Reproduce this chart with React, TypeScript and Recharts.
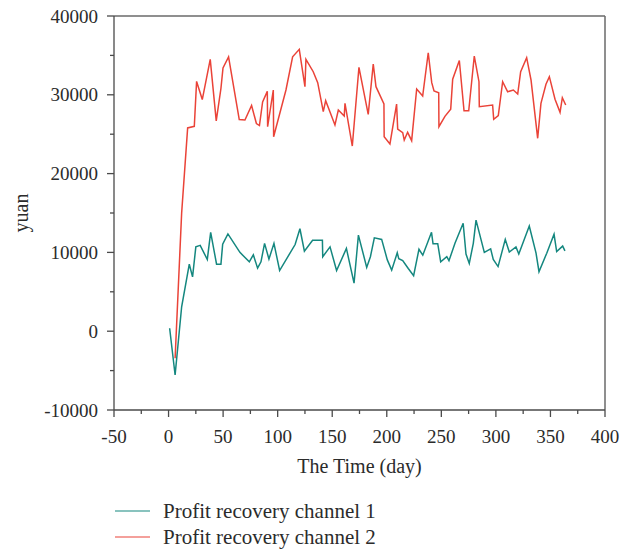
import React from 'react';
import { LineChart, Line, XAxis, YAxis, ReferenceLine, Legend } from 'recharts';

const channel1Days = [1, 6, 12, 19, 22, 25, 29, 35.5, 38.6, 44, 48, 49.6, 54.4, 65.4, 74, 77.7, 81.6, 84.7, 88, 92, 96.6, 101.8, 116, 120.4, 124.5, 132, 141, 141.3, 148, 154, 163, 170, 174, 181.6, 185, 188.6, 195.3, 200.5, 204.5, 209.6, 211, 214.6, 219.7, 224.6, 229.5, 233, 241, 242.4, 246.7, 249.4, 255, 257, 262.5, 270, 272.6, 275.6, 279.3, 281.8, 289.4, 295.2, 297.6, 302, 308.6, 312.3, 318.4, 321, 330.6, 336.8, 339.5, 346.6, 353.3, 355.7, 361.2, 363.3];
const channel1Values = [370, -5560, 3100, 8500, 6900, 10700, 10900, 9100, 12550, 8500, 8500, 11050, 12350, 10000, 8800, 9700, 8000, 8800, 11150, 9150, 11150, 7700, 11000, 13000, 10150, 11550, 11550, 9450, 10700, 7700, 10500, 6100, 12200, 8100, 9450, 11850, 11650, 9050, 7750, 9950, 9200, 8950, 7950, 7050, 10400, 9650, 12550, 11100, 11100, 8800, 9450, 8950, 11150, 13700, 9800, 8600, 11150, 14100, 10000, 10450, 9100, 8200, 11650, 10050, 10700, 9800, 13350, 9900, 7550, 9900, 12300, 10100, 10800, 10200];

const channel2Days = [6, 12, 17.5, 23.6, 25.7, 30.9, 38.2, 43.7, 48, 49.9, 55, 64.8, 70, 76.1, 80.5, 83.3, 86.2, 90.5, 90.8, 96, 96.3, 107.6, 113.7, 119.8, 125, 125.9, 132.6, 136.7, 141.8, 144, 152.5, 155.6, 161, 161.7, 168.4, 174.5, 183, 187.6, 190.1, 197.4, 197.6, 202.9, 209, 210, 214.6, 216, 219.1, 222.8, 227.4, 232.9, 238, 241.2, 243.3, 247.6, 247.8, 253.3, 258.6, 260.4, 266.5, 270.8, 275.1, 280.2, 284.5, 284.8, 297, 298, 302.2, 306.2, 310.8, 316, 320, 322.7, 328.2, 332.2, 338.3, 341.3, 345.9, 349, 354.2, 358.8, 360.9, 364];
const channel2Values = [-3440, 15000, 25800, 26000, 31700, 29400, 34500, 26700, 30800, 33400, 34800, 26850, 26800, 28650, 26350, 26100, 29100, 30440, 25950, 30610, 24680, 30610, 34830, 35770, 31030, 34500, 32930, 31540, 27860, 29250, 26170, 28070, 27310, 28920, 23500, 33490, 27520, 33910, 31030, 28830, 24680, 23760, 28830, 25660, 25190, 24260, 25240, 24180, 30740, 29850, 35340, 31540, 30480, 30270, 25950, 27260, 28180, 31970, 34350, 27980, 27980, 34920, 31660, 28490, 28700, 26890, 27350, 31660, 30390, 30610, 30100, 32930, 34710, 31880, 24480, 28920, 31330, 32300, 29430, 27780, 29630, 28700];

const xTicks = [-50, -25, 0, 25, 50, 75, 100, 125, 150, 175, 200, 225, 250, 275, 300, 325, 350, 375, 400];
const yTicks = [-10000, -5000, 0, 5000, 10000, 15000, 20000, 25000, 30000, 35000, 40000];
const seriesNames = ['Profit recovery channel 1', 'Profit recovery channel 2'];
const seriesColors = ['#14877f', '#ea4338'];

const channel1 = channel1Days.map((d, i) => ({ day: d, value: channel1Values[i] }));
const channel2 = channel2Days.map((d, i) => ({ day: d, value: channel2Values[i] }));

const FONT = '"Liberation Serif", "DejaVu Serif", serif';
const AXIS = '#4a4a4a';
const TEXT = '#2b2b2b';

const XTick = (props: any) => {
  const { x, y, payload } = props;
  const v = payload.value;
  const major = v % 50 === 0;
  return (
    <g>
      <line x1={x} y1={y} x2={x} y2={y + (major ? 7 : 4)} stroke={AXIS} strokeWidth={1.3} />
      {major && (
        <text x={x} y={y + 33} textAnchor="middle" fontFamily={FONT} fontSize={19} fill={TEXT}>
          {v}
        </text>
      )}
    </g>
  );
};

const YTick = (props: any) => {
  const { x, y, payload } = props;
  const v = payload.value;
  const major = v % 10000 === 0;
  return (
    <g>
      <line x1={x} y1={y} x2={x - (major ? 7 : 4)} y2={y} stroke={AXIS} strokeWidth={1.3} />
      {major && (
        <text x={x - 16} y={y + 6.5} textAnchor="end" fontFamily={FONT} fontSize={19} fill={TEXT}>
          {v}
        </text>
      )}
    </g>
  );
};

const LegendContent = () => (
  <div style={{ fontFamily: FONT, fontSize: 21, color: TEXT }}>
    {seriesNames.map((n, i) => (
      <div key={n} style={{ display: 'flex', alignItems: 'center', height: 26 }}>
        <svg width={35} height={4} style={{ marginRight: 13 }}>
          <line x1={0} y1={2} x2={35} y2={2} stroke={seriesColors[i]} strokeWidth={1.2} />
        </svg>
        <span style={{ whiteSpace: 'nowrap' }}>{n}</span>
      </div>
    ))}
  </div>
);

export default function App() {
  return (
    <div style={{ width: 635, height: 551, margin: '-8px 0 0 -8px' }}>
      <LineChart width={635} height={551} margin={{ top: 16, right: 30, left: 8, bottom: 71 }}>
        <XAxis
          dataKey="day"
          type="number"
          domain={[-50, 400]}
          ticks={xTicks}
          interval={0}
          allowDataOverflow
          height={70}
          tickSize={0}
          tickMargin={0}
          tickLine={false}
          tick={<XTick />}
          axisLine={{ stroke: AXIS, strokeWidth: 1.3 }}
          label={{
            content: (p: any) => {
              const vb = p.viewBox || { x: 114, y: 410, width: 491, height: 70 };
              return (
                <text x={vb.x + vb.width / 2} y={vb.y + 63} textAnchor="middle" fontFamily={FONT} fontSize={20} fill={TEXT}>
                  The Time (day)
                </text>
              );
            },
          }}
        />
        <YAxis
          type="number"
          domain={[-10000, 40000]}
          ticks={yTicks}
          interval={0}
          allowDataOverflow
          width={106}
          tickSize={0}
          tickMargin={0}
          tickLine={false}
          tick={<YTick />}
          axisLine={{ stroke: AXIS, strokeWidth: 1.3 }}
          label={{
            content: (p: any) => {
              const vb = p.viewBox || { x: 8, y: 16, width: 106, height: 394 };
              const cx = vb.x + 13;
              const cy = vb.y + vb.height / 2;
              return (
                <text x={cx} y={cy} transform={`rotate(-90, ${cx}, ${cy})`} textAnchor="middle" dominantBaseline="central" fontFamily={FONT} fontSize={20} fill={TEXT}>
                  yuan
                </text>
              );
            },
          }}
        />
        <ReferenceLine y={40000} stroke="#6a6a6a" strokeWidth={1.5} />
        <ReferenceLine x={400} stroke="#6a6a6a" strokeWidth={1.5} />
        <Line data={channel1} dataKey="value" name={seriesNames[0]} stroke={seriesColors[0]} strokeWidth={1.5} dot={false} type="linear" isAnimationActive={false} />
        <Line data={channel2} dataKey="value" name={seriesNames[1]} stroke={seriesColors[1]} strokeWidth={1.5} dot={false} type="linear" isAnimationActive={false} />
        <Legend
          layout="vertical"
          align="center"
          verticalAlign="middle"
          wrapperStyle={{ top: 498, left: 115, width: 420 }}
          content={<LegendContent />}
        />
      </LineChart>
    </div>
  );
}
